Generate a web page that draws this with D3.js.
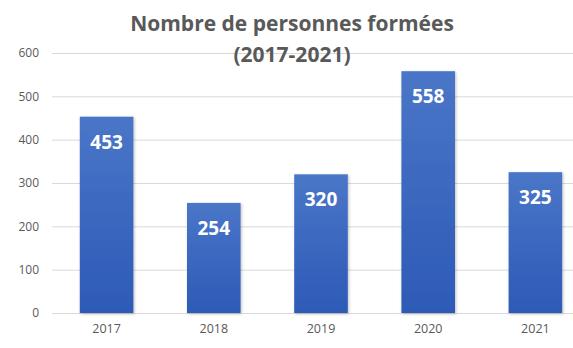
<!DOCTYPE html>
<html><head><meta charset="utf-8">
<script src="https://cdn.jsdelivr.net/npm/d3@7"></script>
<style>body{margin:0;background:#fff}svg{display:block}</style>
</head><body>
<svg id="c" width="573" height="348"></svg>
<script>
const years = ["2017","2018","2019","2020","2021"];
const values = [453, 254, 320, 558, 325];
const yTicks = [0,100,200,300,400,500,600];
const titleLines = ["Nombre de personnes formées","(2017-2021)"];

const svg = d3.select("#c");
const W = 573, H = 348;
const x = d3.scaleBand().domain(years).range([53, 589]).paddingInner(0.5).paddingOuter(0.25);
const y = d3.scaleLinear().domain([0,600]).range([313, 53]);

const defs = svg.append("defs");
const g = defs.append("linearGradient").attr("id","bg").attr("x1",0).attr("y1",0).attr("x2",0).attr("y2",1);
g.append("stop").attr("offset","0%").attr("stop-color","#4A76C8");
g.append("stop").attr("offset","100%").attr("stop-color","#2D5AB6");
const f = defs.append("filter").attr("id","sh").attr("x","-20%").attr("y","-10%").attr("width","140%").attr("height","120%");
f.append("feDropShadow").attr("dx",1).attr("dy",1).attr("stdDeviation",1.5).attr("flood-color","#000").attr("flood-opacity",0.25);

// grid
svg.append("g").selectAll("line").data(yTicks).join("line")
  .attr("x1",52).attr("x2",W).attr("y1",d=>y(d)+0.5).attr("y2",d=>y(d)+0.5)
  .attr("stroke","#D9D9D9").attr("stroke-width",1);

// y axis labels
const yAxis = d3.axisLeft(y).tickValues(yTicks).tickSize(0).tickPadding(0);
const ya = svg.append("g").attr("transform","translate(39,0)").call(yAxis);
ya.select(".domain").remove();
ya.selectAll("text").attr("font-family","'Open Sans', sans-serif").attr("font-size",12).attr("fill","#595959");

// x axis labels
const xAxis = d3.axisBottom(x).tickSize(0).tickPadding(0);
const xa = svg.append("g").attr("transform","translate(0,324)").call(xAxis);
xa.select(".domain").remove();
xa.selectAll("text").attr("font-family","'Open Sans', sans-serif").attr("font-size",12.5).attr("fill","#595959");

// bars
svg.append("g").selectAll("rect").data(values).join("rect")
  .attr("x",(d,i)=>x(years[i])).attr("width",x.bandwidth())
  .attr("y",d=>y(d)).attr("height",d=>y(0)-y(d))
  .attr("fill","url(#bg)").attr("filter","url(#sh)");

// value labels
svg.append("g").selectAll("text").data(values).join("text")
  .attr("x",(d,i)=>x(years[i])+x.bandwidth()/2).attr("y",d=>y(d)+32)
  .attr("text-anchor","middle").attr("font-family","'Open Sans', sans-serif")
  .attr("font-weight","bold").attr("font-size",19).attr("fill","#fff").text(d=>d);

// title
svg.append("g").selectAll("text").data(titleLines).join("text")
  .attr("x",292).attr("y",(d,i)=>31+i*31).attr("text-anchor","middle")
  .attr("font-family","'Open Sans', sans-serif").attr("font-weight","bold")
  .attr("font-size",21).attr("fill","#595959").text(d=>d);
</script>
</body></html>
